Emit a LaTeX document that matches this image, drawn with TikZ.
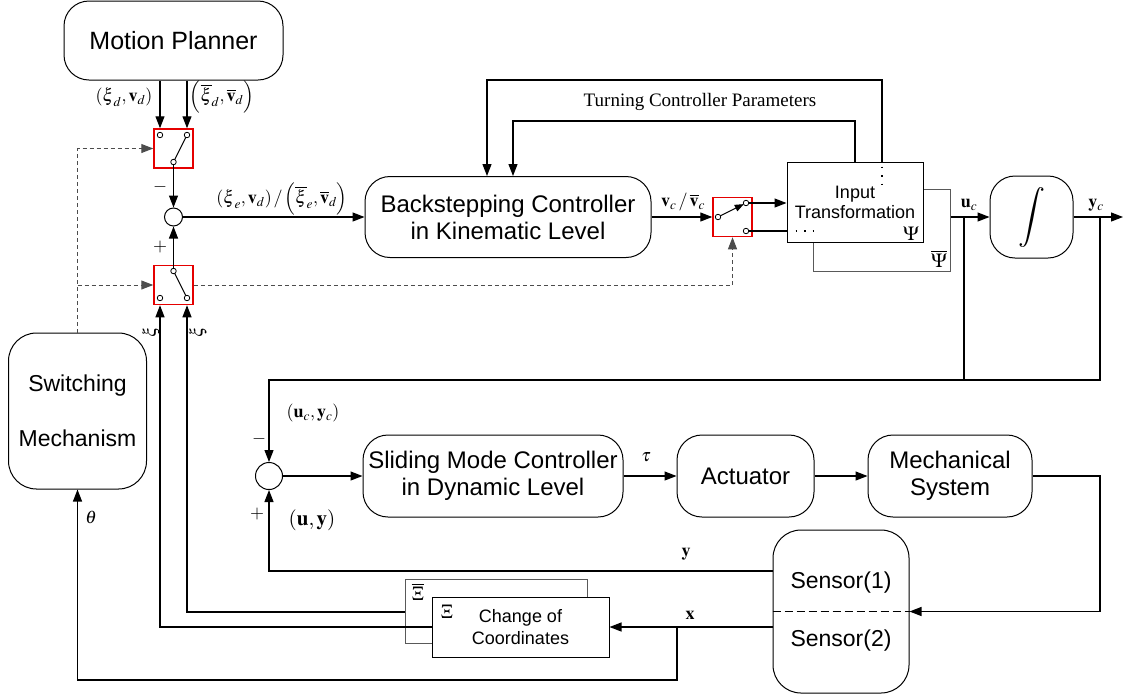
\documentclass[tikz,border=0pt]{standalone}
\usepackage{amsmath}
\usepackage{mathptmx}
\usepackage[no-math]{fontspec}
\setmainfont{Liberation Sans}
\newfontfamily\serifit{Liberation Serif}
\usetikzlibrary{arrows.meta,calc}
\begin{document}
\begin{tikzpicture}[x=1pt,y=-1pt,
  line/.style={line width=1.2pt},
  arr/.style={line width=1.2pt,-{Triangle[length=12pt,width=9pt]}},
  darr/.style={dashed,dash pattern=on 4pt off 3pt,line width=1pt,draw=gray!60!black,
    -{Triangle[length=12pt,width=9pt]}},
  rbox/.style={draw,line width=1pt,rounded corners=25pt,align=center,inner sep=0pt,fill=white},
  sbox/.style={draw,line width=1pt,align=center,inner sep=0pt,fill=white},
  gbox/.style={draw=gray!70!black,line width=1pt,inner sep=0pt,fill=white},
  swbox/.style={draw=red!90!black,line width=1.5pt,minimum width=39pt,minimum height=39pt,inner sep=0pt},
  contact/.style={circle,draw,line width=0.8pt,fill=white,inner sep=0pt,minimum size=5.5pt},
  sumc/.style={circle,draw,line width=1pt,inner sep=0pt,fill=white},
  lbl/.style={inner sep=0pt},
  bigtxt/.style={font=\fontsize{24}{27}\selectfont},
  mathlbl/.style={inner sep=0pt,font=\fontsize{18}{20}\selectfont},
  dotline/.style={line width=1.6pt,dash pattern=on 1.6pt off 7pt},
]
\useasboundingbox (0,0) rectangle (1123,697);

% ---------- blocks ----------
\node[rbox,minimum width=219pt,minimum height=79pt,font=\fontsize{25}{28}\selectfont] (MP) at (173.5,40.5) {Motion Planner};
\node[rbox,minimum width=286pt,minimum height=81pt,bigtxt] (BS) at (508,217) {Backstepping Controller\\in Kinematic Level};
\node[gbox,minimum width=137pt,minimum height=82pt] (ITb) at (881.5,230) {};
\node[sbox,minimum width=136pt,minimum height=80pt,font=\fontsize{18}{20}\selectfont] (ITf) at (855,202) {Input\\Transformation};
\node[rbox,minimum width=83pt,minimum height=82pt] (INT) at (1031.5,217) {};
\node[rbox,rounded corners=28pt,minimum width=138pt,minimum height=156pt,font=\fontsize{23}{55}\selectfont] (SW) at (77.5,411) {Switching\\Mechanism};
\node[rbox,minimum width=260pt,minimum height=82pt,bigtxt] (SMC) at (493,476) {Sliding Mode Controller\\in Dynamic Level};
\node[rbox,minimum width=137pt,minimum height=82pt,bigtxt] (ACT) at (745.5,476) {Actuator};
\node[rbox,minimum width=164pt,minimum height=82pt,bigtxt] (MECH) at (950,476) {Mechanical\\System};
\node[rbox,rounded corners=28pt,minimum width=136pt,minimum height=163pt,font=\fontsize{23}{58}\selectfont] (SEN) at (841,611.5) {Sensor(1)\\Sensor(2)};
\node[gbox,minimum width=182pt,minimum height=64pt] (CCb) at (496,611) {};
\node[sbox,minimum width=177pt,minimum height=60pt,font=\fontsize{18}{22}\selectfont] (CCf) at (520.5,627) {Change of\\Coordinates};

% integrator symbol
\node[lbl,font=\fontsize{30}{30}\selectfont] (intsym) at (INT.center) {$\displaystyle\int$};

% summing junctions
\node[sumc,minimum size=18pt] (C1) at (173.5,217) {};
\node[sumc,minimum size=27pt] (C2) at (269,476) {};

% switches
\node[swbox] (S1) at (173.5,148.5) {};
\node[swbox] (S2) at (173.5,285) {};
\node[swbox] (S3) at (732.5,217) {};
\coordinate (p1a) at (160,135); \coordinate (p1b) at (187,135); \coordinate (p1p) at (173.5,162);
\coordinate (p2a) at (160,298); \coordinate (p2b) at (187,298); \coordinate (p2p) at (173.5,271);
\coordinate (p3p) at (718,217); \coordinate (p3a) at (746,203); \coordinate (p3b) at (746,231);

% ---------- connectors ----------
\draw[arr] (MP.south -| p1a) -- (S1.north -| p1a);
\draw[arr] (MP.south -| p1b) -- (S1.north -| p1b);
\draw[line,line width=1pt] (p1p) -- (p1b);
\draw[arr] (p1p) -- (C1.north);
\draw[line,line width=1pt] (p2p) -- (p2b);
\draw[arr] (p2p) -- (C1.south);
\draw[arr] (C1.east) -- (BS.west);

\draw[darr] (SW.north) |- (S1.west);
\draw[darr] (SW.north |- S2.west) -- (S2.west);
\draw[darr] (S2.east) -| (S3.south);

\draw[arr] (BS.east) -- (S3.west);
\draw[line width=1pt,-{Triangle[length=9pt,width=7pt]},shorten >=2.5pt] (p3p) -- (p3a);
\draw[arr] (p3a) -- (ITf.west |- p3a);
\draw[line] (p3b) -- (ITf.west |- p3b);
\draw[dotline] ([xshift=9pt]ITf.west |- p3b) -- ++(20,0);

% tuning feedback
\draw[arr] (ITf.north) |- ([xshift=5pt]BS.north |- 0,121) -- ([xshift=5pt]BS.north);
\draw[arr] ([xshift=27pt]ITf.north) |- ([xshift=-21pt]BS.north |- 0,80) -- ([xshift=-21pt]BS.north);
\draw[dotline] ([xshift=27pt,yshift=-5pt]ITf.north) -- ++(0,20);

% u_c, y_c
\coordinate (ucj) at (964,217);
\coordinate (ycj) at (1100,217);
\coordinate (out) at (1123,217);
\draw[arr] (ITb.east |- INT.west) -- (INT.west);
\draw[arr] (INT.east) -- (out);
\draw[line] (ycj) -- (ycj |- 0,380) -- (ucj |- 0,380);
\draw[arr] (ucj) -- (ucj |- 0,380) -| (C2.north);

% dynamic loop
\draw[arr] (C2.east) -- (SMC.west);
\draw[arr] (SMC.east) -- (ACT.west);
\draw[arr] (ACT.east) -- (MECH.west);
\draw[arr] (MECH.east) -| (ycj |- 0,540) |- (SEN.east);
\draw[line width=1pt,dashed,dash pattern=on 8pt off 4pt] (SEN.west) -- (SEN.east);
\draw[arr] (SEN.west |- 0,571) -| (C2.south);
\coordinate (xj) at (677,627);
\draw[arr] (SEN.west |- xj) -- (CCf.east |- xj);
\draw[arr] (xj) -- ++(0,53) -| (SW.south);
\draw[arr] (CCf.west) -| (S2.south -| p2a);
\draw[arr] (CCb.west |- 0,612) -| (S2.south -| p2b);

% contacts on top
\foreach \c/\n in {p1a/k1a,p1b/k1b,p1p/k1p,p2a/k2a,p2b/k2b,p2p/k2p,p3p/k3p,p3a/k3a,p3b/k3b}
  \node[contact] (\n) at (\c) {};

% ---------- labels ----------
\node[mathlbl] (l1) at (124,97) {$\left(\boldsymbol{\xi}_d,\mathbf{v}_d\right)$};
\node[mathlbl] (l2) at (222,97) {$\left(\overline{\boldsymbol{\xi}}_d,\overline{\mathbf{v}}_d\right)$};
\node[lbl,font=\fontsize{18}{18}\selectfont] (m1) at (160,187) {$-$};
\node[lbl,font=\fontsize{18}{18}\selectfont] (pl1) at (160,247) {$+$};
\node[mathlbl] (l3) at (282,199) {$\left(\boldsymbol{\xi}_e,\mathbf{v}_d\right)/\left(\overline{\boldsymbol{\xi}}_e,\overline{\mathbf{v}}_d\right)$};
\node[lbl,font=\serifit\fontsize{19}{20}\selectfont] (tcp) at (700,102) {Turning Controller Parameters};
\node[mathlbl] (lvc) at (683,202) {$\mathbf{v}_c\,/\,\overline{\mathbf{v}}_c$};
\node[mathlbl] (luc) at (969,205) {$\mathbf{u}_c$};
\node[mathlbl] (lyc) at (1096,205) {$\mathbf{y}_c$};
\node[mathlbl,font=\fontsize{20}{20}\selectfont] (lpsi) at (911,234) {$\boldsymbol{\Psi}$};
\node[mathlbl,font=\fontsize{20}{20}\selectfont] (lpsib) at (939,259) {$\overline{\boldsymbol{\Psi}}$};
\node[mathlbl,rotate=90] (lxi) at (151,332) {$\boldsymbol{\xi}$};
\node[mathlbl,rotate=90] (lxib) at (196,332) {$\overline{\boldsymbol{\xi}}$};
\node[mathlbl] (lth) at (91,517) {$\theta$};
\node[mathlbl] (lucyc) at (313,413) {$\left(\mathbf{u}_c,\mathbf{y}_c\right)$};
\node[lbl,font=\fontsize{18}{18}\selectfont] (m2) at (259,439) {$-$};
\node[lbl,font=\fontsize{18}{18}\selectfont] (pl2) at (257,514) {$+$};
\node[mathlbl,font=\fontsize{21}{22}\selectfont] (luy) at (312,520) {$\left(\mathbf{u},\mathbf{y}\right)$};
\node[mathlbl] (ltau) at (646,457) {$\boldsymbol{\tau}$};
\node[mathlbl] (ly) at (686,554) {$\mathbf{y}$};
\node[mathlbl] (lx) at (690,615) {$\mathbf{x}$};
\node[mathlbl,font=\fontsize{20}{20}\selectfont] (lXib) at (418,592) {$\overline{\boldsymbol{\Xi}}$};
\node[mathlbl,font=\fontsize{20}{20}\selectfont] (lXi) at (447,612) {$\boldsymbol{\Xi}$};
\end{tikzpicture}
\end{document}
